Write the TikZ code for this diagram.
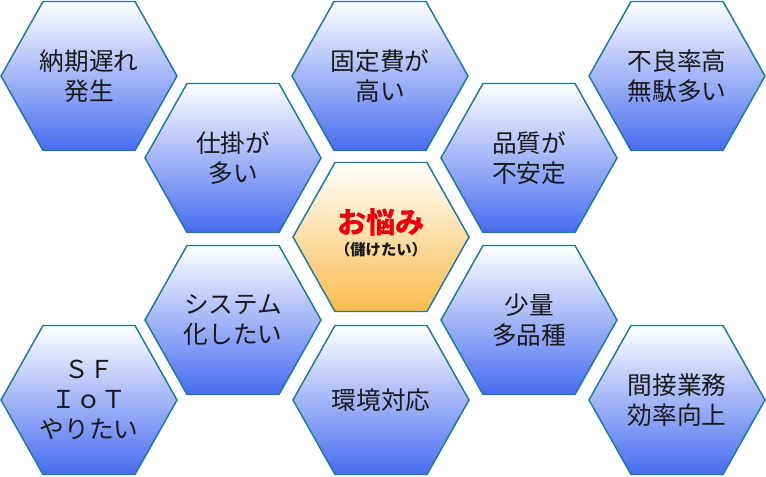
\documentclass[tikz,border=0pt]{standalone}
\usepackage{fontspec}
\newfontfamily\cjk{Noto Sans CJK JP}
\definecolor{hexedge}{RGB}{30,120,150}
\definecolor{hexblue}{RGB}{72,108,240}
\definecolor{hexorange}{RGB}{250,188,78}
\definecolor{txt}{RGB}{25,25,25}
\definecolor{worry}{RGB}{232,0,10}
\tikzset{
  hexblue/.style={draw=hexedge, line width=1.1pt, line join=miter, top color=white, middle color=hexblue!32!white, bottom color=hexblue},
  hexorange/.style={draw=hexedge, line width=1.1pt, line join=miter, top color=white, middle color=hexorange!35!white, bottom color=hexorange},
  hextext/.style={align=center, text=txt, inner sep=0pt, font=\cjk\fontsize{18.5}{22.5}\selectfont},
}
\newcommand\hexcell[5]{%
  \path[#4, shift={(#2,#3)}] (-88,0) -- (-46,-74.5) -- (46,-74.5) -- (88,0) -- (46,74.5) -- (-46,74.5) -- cycle;
  \node[hextext] (#1) at (#2,#3) {#5};
}
\begin{document}
\begin{tikzpicture}[x=0.75pt, y=-0.75pt]
\useasboundingbox (0,0) rectangle (766,477);
\hexcell{late}{89}{76}{hexblue}{納期遅れ\\発生}
\hexcell{fixed}{380}{76}{hexblue}{固定費が\\高い}
\hexcell{defect}{677}{76}{hexblue}{不良率高\\無駄多い}
\hexcell{wip}{233}{158}{hexblue}{仕掛が\\多い}
\hexcell{quality}{529}{158}{hexblue}{品質が\\不安定}
\hexcell{system}{233}{320}{hexblue}{システム\\化したい}
\hexcell{variety}{529}{320}{hexblue}{少量\\多品種}
\hexcell{sfiot}{89}{400}{hexblue}{\fontsize{18.5}{21}\selectfont ＳＦ\\ＩｏＴ\\やりたい}
\hexcell{env}{381}{400}{hexblue}{環境対応}
\hexcell{indirect}{677}{400}{hexblue}{間接業務\\効率向上}
\path[hexorange, shift={(381,237)}] (-88,0) -- (-46,-74.5) -- (46,-74.5) -- (88,0) -- (46,74.5) -- (-46,74.5) -- cycle;
\node[inner sep=0pt, text=worry, font=\cjk\bfseries\fontsize{22}{24}\selectfont] (worry) at (381,222) {お悩み};
\node[inner sep=0pt, text=txt, font=\cjk\bfseries\fontsize{11.5}{13}\selectfont] (profit) at (381,250) {（儲けたい）};
\end{tikzpicture}
\end{document}
